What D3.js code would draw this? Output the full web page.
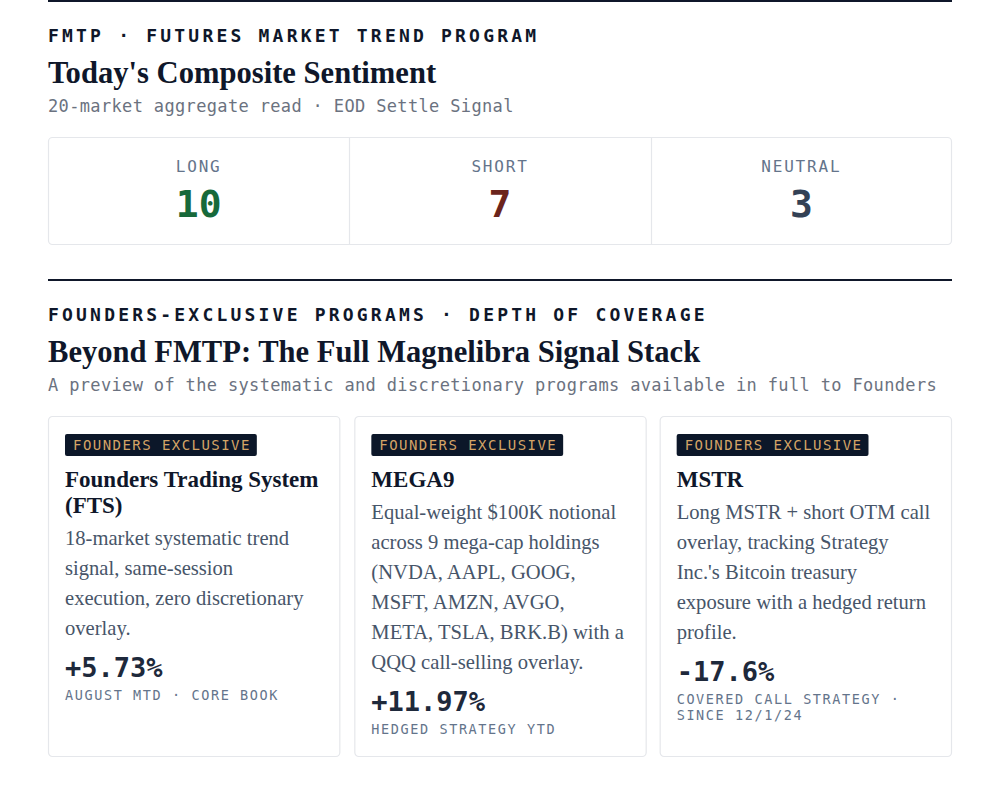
<!DOCTYPE html>
<html>
<head>
<meta charset="utf-8">
<script src="https://cdn.jsdelivr.net/npm/d3@7"></script>
<style>
  html,body{margin:0;padding:0;background:#fff;}
  svg{display:block;}
</style>
</head>
<body>
<svg id="chart" width="1000" height="790"></svg>
<script>
// ---- data ----
const sentimentLabels = ["LONG", "SHORT", "NEUTRAL"];
const sentimentCounts = [10, 7, 3];
const sentimentColors = ["#17693a", "#6b241c", "#334155"];

const programNames = [["Founders Trading System", "(FTS)"], ["MEGA9"], ["MSTR"]];
const programDescriptions = [
  ["18-market systematic trend", "signal, same-session", "execution, zero discretionary", "overlay."],
  ["Equal-weight $100K notional", "across 9 mega-cap holdings", "(NVDA, AAPL, GOOG,", "MSFT, AMZN, AVGO,", "META, TSLA, BRK.B) with a", "QQQ call-selling overlay."],
  ["Long MSTR + short OTM call", "overlay, tracking Strategy", "Inc.'s Bitcoin treasury", "exposure with a hedged return", "profile."]
];
const programReturns = [5.73, 11.97, -17.6];
const returnDecimals = [2, 2, 1];
const programNotes = [["AUGUST MTD · CORE BOOK"], ["HEDGED STRATEGY YTD"], ["COVERED CALL STRATEGY ·", "SINCE 12/1/24"]];
const badgeText = "FOUNDERS EXCLUSIVE";

// ---- drawing ----
const MONO = "'DejaVu Sans Mono', monospace";
const SERIF = "'Liberation Serif', 'Times New Roman', serif";
const svg = d3.select("#chart");
const left = 48, right = 952;
const locale = d3.formatLocale({decimal: ".", thousands: ",", grouping: [3], currency: ["$", ""], minus: "-"});

// Section 1
svg.append("rect").attr("x", left).attr("y", 0).attr("width", right-left).attr("height", 2).attr("fill", "#0f172a");
svg.append("text").attr("x", left).attr("y", 42)
  .attr("font-family", MONO).attr("font-weight", "bold").attr("font-size", 18)
  .attr("letter-spacing", "3.2px").attr("fill", "#0f172a")
  .text("FMTP · FUTURES MARKET TREND PROGRAM");
svg.append("text").attr("x", left).attr("y", 83)
  .attr("font-family", SERIF).attr("font-weight", "bold").attr("font-size", 30.6)
  .attr("fill", "#0f172a").text("Today's Composite Sentiment");
svg.append("text").attr("x", left).attr("y", 112)
  .attr("font-family", MONO).attr("font-size", 17).attr("letter-spacing", "0.35px")
  .attr("fill", "#6b7280").text("20-market aggregate read · EOD Settle Signal");

// Sentiment panel
const boxTop = 137, boxH = 107;
const xs = d3.scaleBand().domain(sentimentLabels).range([left, right]);
svg.append("rect").attr("x", left + 0.5).attr("y", boxTop + 0.5)
  .attr("width", right - left - 1).attr("height", boxH)
  .attr("rx", 4).attr("fill", "#fff").attr("stroke", "#e5e7eb").attr("stroke-width", 1.2);
const cells = svg.selectAll("g.sent").data(sentimentLabels).join("g").attr("class", "sent");
cells.filter((d, i) => i > 0).append("line")
  .attr("x1", d => Math.round(xs(d)) + 0.5).attr("x2", d => Math.round(xs(d)) + 0.5)
  .attr("y1", boxTop + 1).attr("y2", boxTop + boxH)
  .attr("stroke", "#e5e7eb").attr("stroke-width", 1.2);
cells.append("text")
  .attr("x", d => xs(d) + xs.bandwidth() / 2).attr("y", 172)
  .attr("text-anchor", "middle").attr("font-family", MONO).attr("font-size", 16)
  .attr("letter-spacing", "1.8px").attr("fill", "#64748b").text(d => d);
cells.append("text")
  .attr("x", d => xs(d) + xs.bandwidth() / 2).attr("y", 217)
  .attr("text-anchor", "middle").attr("font-family", MONO).attr("font-weight", "bold")
  .attr("font-size", 38).attr("fill", (d, i) => sentimentColors[i])
  .text((d, i) => sentimentCounts[i]);

// Section 2
svg.append("rect").attr("x", left).attr("y", 279).attr("width", right-left).attr("height", 2).attr("fill", "#0f172a");
svg.append("text").attr("x", left).attr("y", 321)
  .attr("font-family", MONO).attr("font-weight", "bold").attr("font-size", 18)
  .attr("letter-spacing", "3.2px").attr("fill", "#0f172a")
  .text("FOUNDERS-EXCLUSIVE PROGRAMS · DEPTH OF COVERAGE");
svg.append("text").attr("x", left).attr("y", 362)
  .attr("font-family", SERIF).attr("font-weight", "bold").attr("font-size", 30.6)
  .attr("fill", "#0f172a").text("Beyond FMTP: The Full Magnelibra Signal Stack");
svg.append("text").attr("x", left).attr("y", 391)
  .attr("font-family", MONO).attr("font-size", 17).attr("letter-spacing", "0.35px")
  .attr("fill", "#6b7280").text("A preview of the systematic and discretionary programs available in full to Founders");

// Cards
const cardTop = 416, cardH = 340, gap = 15;
const cx = d3.scaleBand().domain(d3.range(programNames.length)).range([left, right + gap]).paddingInner(0);
const cardW = cx.bandwidth() - gap;
const fmt = (v, i) => (v >= 0 ? "+" : "") + locale.format("." + returnDecimals[i] + "f")(v) + "%";

const cards = svg.selectAll("g.card").data(programNames).join("g")
  .attr("class", "card").attr("transform", (d, i) => `translate(${cx(i) - (i === 2 ? 1 : 0)},${cardTop})`);
cards.append("rect").attr("x", 0.5).attr("y", 0.5).attr("width", cardW).attr("height", cardH)
  .attr("rx", 4).attr("fill", "#fff").attr("stroke", "#e5e7eb").attr("stroke-width", 1.2);

const pad = 17;
cards.each(function(d, i) {
  const g = d3.select(this);
  // badge
  const bt = g.append("text").attr("x", pad + 8).attr("y", 34)
    .attr("font-family", MONO).attr("font-size", 14).attr("letter-spacing", "1.45px")
    .attr("fill", "#d4a466").text(badgeText);
  const bw = bt.node().getComputedTextLength();
  g.insert("rect", "text").attr("x", pad).attr("y", 18).attr("width", bw + 14).attr("height", 22)
    .attr("rx", 2).attr("fill", "#0c1729");
  // title
  let y = 71;
  d.forEach((line, k) => {
    g.append("text").attr("x", pad).attr("y", y + k * 26)
      .attr("font-family", SERIF).attr("font-weight", "bold").attr("font-size", 23)
      .attr("fill", "#0f172a").text(line);
  });
  y += (d.length - 1) * 26 + 32;
  programDescriptions[i].forEach((line, k) => {
    g.append("text").attr("x", pad).attr("y", y + k * 30)
      .attr("font-family", SERIF).attr("font-size", 20.6)
      .attr("fill", "#475569").text(line);
  });
  y += (programDescriptions[i].length - 1) * 30 + 42;
  g.append("text").attr("x", pad).attr("y", y)
    .attr("font-family", MONO).attr("font-weight", "bold").attr("font-size", 27)
    .attr("fill", "#1e293b").text(fmt(programReturns[i], i));
  y += 23;
  programNotes[i].forEach((line, k) => {
    g.append("text").attr("x", pad).attr("y", y + k * 16)
      .attr("font-family", MONO).attr("font-size", 13.5).attr("letter-spacing", "1.6px")
      .attr("fill", "#64748b").text(line);
  });
});
</script>
</body>
</html>
